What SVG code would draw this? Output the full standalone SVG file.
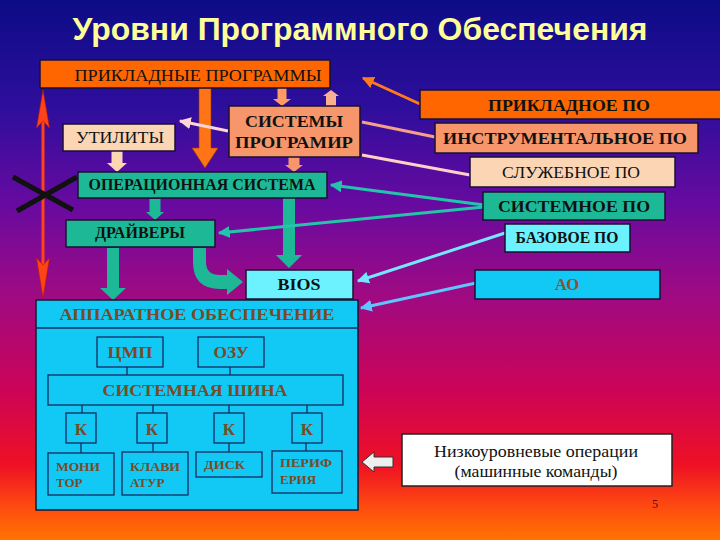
<svg xmlns="http://www.w3.org/2000/svg" width="720" height="540" viewBox="0 0 720 540">
<defs>
<linearGradient id="bg" x1="0" y1="0" x2="0" y2="1">
<stop offset="0" stop-color="#0c0c86"/>
<stop offset="0.2" stop-color="#2e0e9c"/>
<stop offset="0.38" stop-color="#680aa0"/>
<stop offset="0.55" stop-color="#a00a82"/>
<stop offset="0.72" stop-color="#cc0458"/>
<stop offset="0.86" stop-color="#ee1024"/>
<stop offset="0.94" stop-color="#ff4c10"/>
<stop offset="1" stop-color="#ff7400"/>
</linearGradient>
<marker id="mOr" viewBox="0 0 10 10" refX="9" refY="5" markerWidth="4" markerHeight="4" orient="auto"><path d="M0,0 L10,5 L0,10 Z" fill="#ff7a1a"/></marker>
<marker id="mPk" viewBox="0 0 10 10" refX="9" refY="5" markerWidth="4" markerHeight="4" orient="auto"><path d="M0,0 L10,5 L0,10 Z" fill="#ffd6d6"/></marker>
<marker id="mTl" viewBox="0 0 10 10" refX="9" refY="5" markerWidth="4" markerHeight="4" orient="auto"><path d="M0,0 L10,5 L0,10 Z" fill="#24c4ac"/></marker>
<marker id="mCy" viewBox="0 0 10 10" refX="9" refY="5" markerWidth="4" markerHeight="4" orient="auto"><path d="M0,0 L10,5 L0,10 Z" fill="#74e6ff"/></marker>
<marker id="mBl" viewBox="0 0 10 10" refX="9" refY="5" markerWidth="4" markerHeight="4" orient="auto"><path d="M0,0 L10,5 L0,10 Z" fill="#60c4ff"/></marker>
</defs>
<style>
.box{stroke:#1a1030;stroke-width:1.5}
.orange{fill:#ff6600}
.salmon{fill:#f7966b}
.peach{fill:#fcd5b4}
.teal{fill:#1db997}
.cyan{fill:#6cf2ff}
.blue{fill:#12c8f4}
.t{font-family:"Liberation Serif","Times New Roman",serif;font-size:17px;fill:#111;text-anchor:middle}
.b{font-weight:bold}
.hw{font-family:"Liberation Serif","Times New Roman",serif;font-weight:bold;fill:#7a4a26}
.hl{stroke:#1a2a60;stroke-width:1.3;fill:none}
.hbox{fill:none;stroke:#1a2a60;stroke-width:1.3}
.ln{fill:none;stroke-width:3}
</style>
<rect x="0" y="0" width="720" height="540" fill="url(#bg)"/>
<text x="360" y="40" font-family="'Liberation Sans',Arial,sans-serif" font-weight="bold" font-size="31" fill="#ffff99" text-anchor="middle" textLength="575" lengthAdjust="spacingAndGlyphs">Уровни Программного Обеспечения</text>

<g id="connectors">
<!-- block arrows -->
<path d="M199,88 H211 V148 H218 L205,168 L192,148 H199 Z" fill="#ff7416" stroke="#9a3a00" stroke-width="0.6"/>
<path d="M277.5,88 H286.5 V99 H291 L282,106 L273,99 H277.5 Z" fill="#ff9a66"/>
<path d="M326,106 V96 H323 L331,90 L339,96 H336 V106 Z" fill="#f9b090"/>
<path d="M111.5,151 H122.5 V163 H127 L117,172 L107,163 H111.5 Z" fill="#fcd5b4"/>
<path d="M288.5,157 H299.5 V165 H303 L294,172 L285,165 H288.5 Z" fill="#f7966b"/>
<path d="M149.5,199 H160.5 V212 H164 L155,220 L146,212 H149.5 Z" fill="#1db997"/>
<path d="M283,198 H295 V255 H302 L289,268 L276,255 H283 Z" fill="#1db997"/>
<path d="M107,248 H119 V288 H126 L113,300 L100,288 H107 Z" fill="#1db997"/>
<path d="M193,248 H206 V262 Q206,275 220,275 H227 V269 L243,282 L227,295 V289 H220 Q193,289 193,262 Z" fill="#1db997"/>
<!-- left double arrow -->
<line x1="43" y1="118" x2="43" y2="266" stroke="#ff4218" stroke-width="3"/>
<path d="M43,90 L49.5,128 L43,121 L36.5,128 Z" fill="#ff4218" stroke="#b02000" stroke-width="0.6"/>
<path d="M43,298 L36.5,258 L43,265 L49.5,258 Z" fill="#ff4218" stroke="#b02000" stroke-width="0.6"/>
<!-- X mark -->
<line x1="13" y1="177" x2="73" y2="210" stroke="#111" stroke-width="5"/>
<line x1="17" y1="211" x2="77" y2="177" stroke="#111" stroke-width="5"/>
<!-- line arrows -->
<line class="ln" x1="228" y1="131" x2="180" y2="121" stroke="#ffd6d6" marker-end="url(#mPk)"/>
<line class="ln" x1="420" y1="104" x2="363" y2="78" stroke="#ff7a1a" marker-end="url(#mOr)"/>
<line class="ln" x1="435" y1="137" x2="362" y2="122" stroke="#f4a08a"/>
<line class="ln" x1="470" y1="175" x2="362" y2="155" stroke="#ffd0c8"/>
<line class="ln" x1="484" y1="205" x2="331" y2="185" stroke="#24c4ac" marker-end="url(#mTl)"/>
<line class="ln" x1="484" y1="207" x2="219" y2="233" stroke="#24c4ac" marker-end="url(#mTl)"/>
<line class="ln" x1="505" y1="233" x2="358" y2="281" stroke="#74e6ff" marker-end="url(#mCy)"/>
<line class="ln" x1="476" y1="283" x2="361" y2="308" stroke="#60c4ff" marker-end="url(#mBl)"/>
<!-- pale block arrow -->
<path d="M393,457 H374 V452 L362,462 L374,472 V467 H393 Z" fill="#eeeeee" stroke="#333" stroke-width="1"/>
</g>

<g id="n-prikl-progr">
<rect class="box orange" x="40" y="60" width="290" height="28"/>
<text class="t" x="198" y="81" textLength="247" lengthAdjust="spacingAndGlyphs">ПРИКЛАДНЫЕ ПРОГРАММЫ</text>
</g>
<g id="n-utility">
<rect class="box peach" x="63" y="124" width="112" height="27"/>
<text class="t" x="120" y="143" textLength="88" lengthAdjust="spacingAndGlyphs">УТИЛИТЫ</text>
</g>
<g id="n-sys-progr">
<rect class="box salmon" x="229" y="106" width="131" height="51"/>
<text class="t b" x="294" y="127" textLength="98" lengthAdjust="spacingAndGlyphs">СИСТЕМЫ</text>
<text class="t b" x="294" y="148" textLength="118" lengthAdjust="spacingAndGlyphs">ПРОГРАМИР</text>
</g>
<g id="n-os">
<rect class="box teal" x="78" y="172" width="249" height="26"/>
<text class="t b" x="202" y="190" font-size="15" textLength="227" lengthAdjust="spacingAndGlyphs">ОПЕРАЦИОННАЯ СИСТЕМА</text>
</g>
<g id="n-drivers">
<rect class="box teal" x="66" y="220" width="149" height="27"/>
<text class="t b" x="140" y="238" font-size="15" textLength="90" lengthAdjust="spacingAndGlyphs">ДРАЙВЕРЫ</text>
</g>
<g id="n-bios">
<rect class="box cyan" x="246" y="270" width="107" height="29"/>
<text class="t b" x="299" y="290" textLength="43" lengthAdjust="spacingAndGlyphs">BIOS</text>
</g>
<g id="n-app-po">
<rect class="box orange" x="420" y="90" width="301" height="29"/>
<text class="t b" x="569" y="111" textLength="162" lengthAdjust="spacingAndGlyphs">ПРИКЛАДНОЕ ПО</text>
</g>
<g id="n-instr-po">
<rect class="box salmon" x="435" y="123" width="263" height="30"/>
<text class="t b" x="565" y="144" textLength="244" lengthAdjust="spacingAndGlyphs">ИНСТРУМЕНТАЛЬНОЕ ПО</text>
</g>
<g id="n-serv-po">
<rect class="box peach" x="470" y="157" width="205" height="30"/>
<text class="t" x="571" y="178" textLength="138" lengthAdjust="spacingAndGlyphs">СЛУЖЕБНОЕ ПО</text>
</g>
<g id="n-sys-po">
<rect class="box teal" x="483" y="192" width="182" height="28"/>
<text class="t b" x="574" y="212" textLength="152" lengthAdjust="spacingAndGlyphs">СИСТЕМНОЕ ПО</text>
</g>
<g id="n-base-po">
<rect class="box cyan" x="505" y="224" width="125" height="28"/>
<text class="t b" x="567" y="243" textLength="103" lengthAdjust="spacingAndGlyphs">БАЗОВОЕ ПО</text>
</g>
<g id="n-ao">
<rect class="box blue" x="475" y="270" width="185" height="29"/>
<text class="t b" x="567" y="290" fill="#8a5030" style="fill:#8a5030" textLength="24" lengthAdjust="spacingAndGlyphs">АО</text>
</g>

<g id="n-hardware">
<rect x="36" y="300" width="322" height="210" fill="#12c8f4" stroke="#101830" stroke-width="1.5"/>
<line x1="36" y1="328" x2="358" y2="328" stroke="#1a2a60" stroke-width="1.3"/>
<text class="hw" x="197" y="320" font-size="16" text-anchor="middle" textLength="275" lengthAdjust="spacingAndGlyphs">АППАРАТНОЕ ОБЕСПЕЧЕНИЕ</text>
</g>
<g id="n-cpu">
<rect class="hbox" x="97" y="337" width="66" height="30"/>
<text class="hw" x="130" y="358" font-size="16" text-anchor="middle" textLength="45" lengthAdjust="spacingAndGlyphs">ЦМП</text>
</g>
<g id="n-ram">
<rect class="hbox" x="198" y="337" width="66" height="30"/>
<text class="hw" x="231" y="358" font-size="16" text-anchor="middle" textLength="35" lengthAdjust="spacingAndGlyphs">ОЗУ</text>
</g>
<g id="n-bus">
<rect class="hbox" x="48" y="375" width="295" height="30"/>
<text class="hw" x="195" y="396" font-size="17" text-anchor="middle" textLength="185" lengthAdjust="spacingAndGlyphs">СИСТЕМНАЯ ШИНА</text>
</g>
<g id="hw-links">
<line class="hl" x1="127" y1="367" x2="127" y2="375"/>
<line class="hl" x1="230" y1="367" x2="230" y2="375"/>
<line class="hl" x1="82" y1="405" x2="82" y2="413"/>
<line class="hl" x1="153" y1="405" x2="153" y2="413"/>
<line class="hl" x1="229" y1="405" x2="229" y2="413"/>
<line class="hl" x1="307" y1="405" x2="307" y2="413"/>
<line class="hl" x1="81" y1="443" x2="81" y2="453"/>
<line class="hl" x1="153" y1="443" x2="153" y2="452"/>
<line class="hl" x1="229" y1="443" x2="229" y2="452"/>
<line class="hl" x1="306" y1="443" x2="306" y2="451"/>
</g>
<g id="n-k1"><rect class="hbox" x="66" y="413" width="30" height="30"/><text class="hw" x="81" y="435" font-size="17" text-anchor="middle">К</text></g>
<g id="n-k2"><rect class="hbox" x="137" y="413" width="30" height="30"/><text class="hw" x="152" y="435" font-size="17" text-anchor="middle">К</text></g>
<g id="n-k3"><rect class="hbox" x="214" y="413" width="30" height="30"/><text class="hw" x="229" y="435" font-size="17" text-anchor="middle">К</text></g>
<g id="n-k4"><rect class="hbox" x="292" y="413" width="30" height="30"/><text class="hw" x="307" y="435" font-size="17" text-anchor="middle">К</text></g>
<g id="n-monitor">
<rect class="hbox" x="48" y="453" width="66" height="42"/>
<text class="hw" x="56" y="471" font-size="13" textLength="44" lengthAdjust="spacingAndGlyphs">МОНИ</text>
<text class="hw" x="56" y="487" font-size="13">ТОР</text>
</g>
<g id="n-keyboard">
<rect class="hbox" x="122" y="452" width="66" height="43"/>
<text class="hw" x="130" y="471" font-size="13" textLength="50" lengthAdjust="spacingAndGlyphs">КЛАВИ</text>
<text class="hw" x="130" y="487" font-size="13">АТУР</text>
</g>
<g id="n-disk">
<rect class="hbox" x="196" y="452" width="66" height="25"/>
<text class="hw" x="204" y="469" font-size="13" textLength="41" lengthAdjust="spacingAndGlyphs">ДИСК</text>
</g>
<g id="n-periph">
<rect class="hbox" x="272" y="451" width="70" height="42"/>
<text class="hw" x="280" y="467" font-size="13" textLength="52" lengthAdjust="spacingAndGlyphs">ПЕРИФ</text>
<text class="hw" x="280" y="484" font-size="13">ЕРИЯ</text>
</g>

<g id="n-lowlevel">
<rect x="402" y="434" width="270" height="52" fill="#ffffff" stroke="#222" stroke-width="1.5"/>
<text class="t" x="536" y="457" textLength="204" lengthAdjust="spacingAndGlyphs">Низкоуровневые операции</text>
<text class="t" x="536" y="477" textLength="163" lengthAdjust="spacingAndGlyphs">(машинные команды)</text>
</g>
<text x="655" y="508" font-family="'Liberation Serif',serif" font-size="12" fill="#5a1010" text-anchor="middle">5</text>
</svg>
